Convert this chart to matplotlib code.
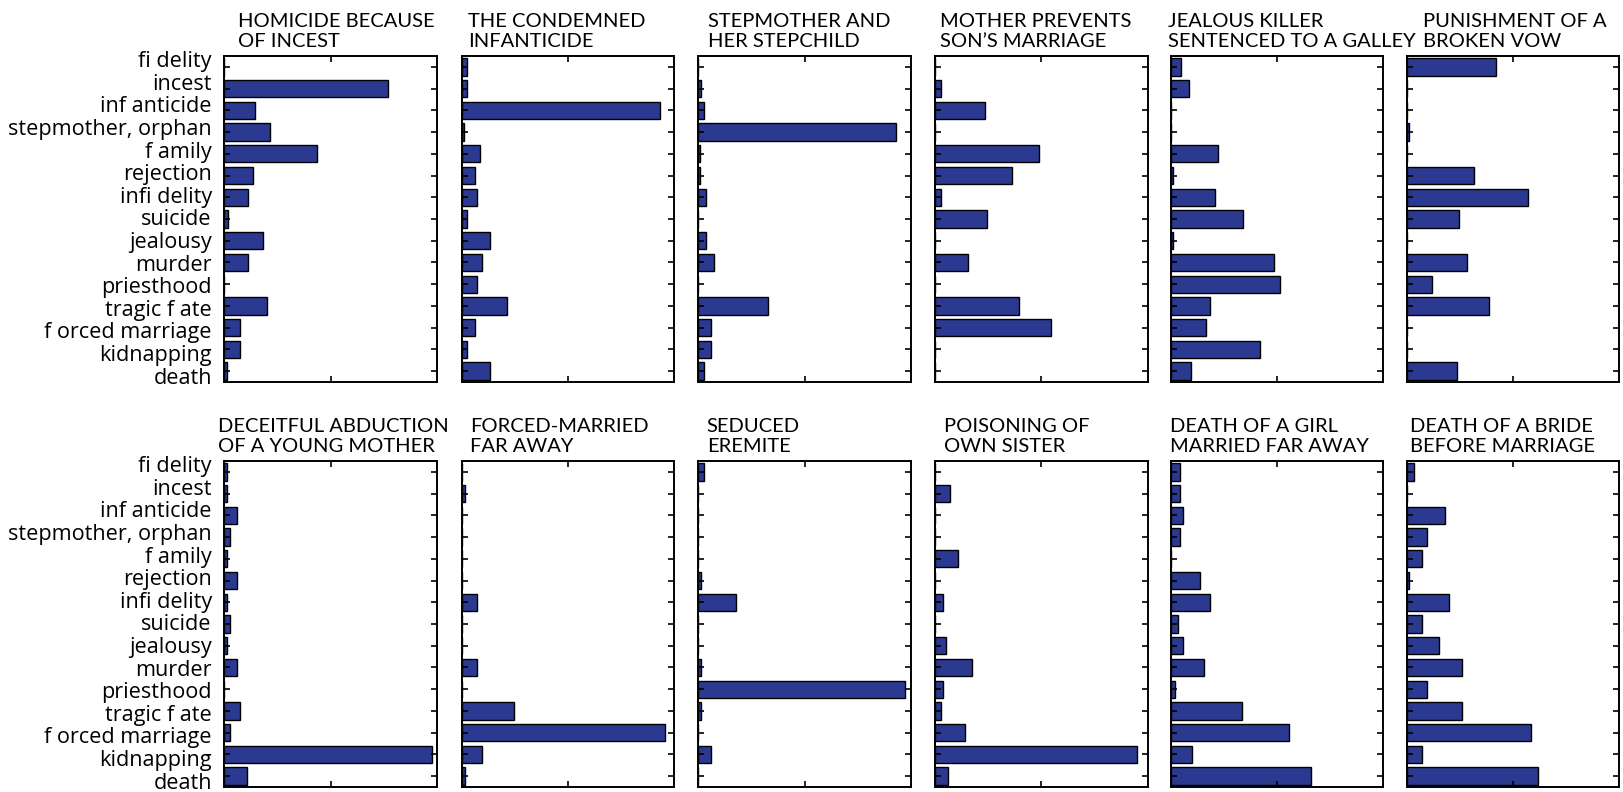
import matplotlib
matplotlib.use("Agg")
import matplotlib.pyplot as plt
import matplotlib.transforms as mtransforms
import numpy as np

categories = ["fi delity", "incest", "inf anticide", "stepmother, orphan", "f amily",
              "rejection", "infi delity", "suicide", "jealousy", "murder",
              "priesthood", "tragic f ate", "f orced marriage", "kidnapping", "death"]

titles = ["HOMICIDE BECAUSE\nOF INCEST", "THE CONDEMNED\nINFANTICIDE",
          "STEPMOTHER AND\nHER STEPCHILD", "MOTHER PREVENTS\nSON\u2019S MARRIAGE",
          "JEALOUS KILLER\nSENTENCED TO A GALLEY", "PUNISHMENT OF A\nBROKEN VOW",
          "DECEITFUL ABDUCTION\nOF A YOUNG MOTHER", "FORCED-MARRIED\nFAR AWAY",
          "SEDUCED\nEREMITE", "POISONING OF\nOWN SISTER",
          "DEATH OF A GIRL\nMARRIED FAR AWAY", "DEATH OF A BRIDE\nBEFORE MARRIAGE"]

homicide_incest = [0.0, 0.77, 0.146, 0.213, 0.436, 0.133, 0.11, 0.017, 0.18, 0.11, 0.0, 0.2, 0.074, 0.074, 0.015]
condemned_infanticide = [0.024, 0.024, 0.933, 0.012, 0.085, 0.061, 0.074, 0.024, 0.132, 0.097, 0.074, 0.213, 0.061, 0.024, 0.132]
stepmother_stepchild = [0.0, 0.011, 0.027, 0.93, 0.01, 0.01, 0.036, 0.0, 0.036, 0.073, 0.0, 0.329, 0.061, 0.061, 0.027]
mother_prevents = [0.0, 0.026, 0.234, 0.0, 0.489, 0.361, 0.026, 0.247, 0.0, 0.154, 0.0, 0.396, 0.548, 0.0, 0.0]
jealous_killer = [0.048, 0.085, 0.0, 0.0, 0.221, 0.013, 0.21, 0.338, 0.013, 0.488, 0.512, 0.187, 0.165, 0.421, 0.095]
broken_vow = [0.42, 0.0, 0.0, 0.013, 0.0, 0.317, 0.572, 0.246, 0.0, 0.283, 0.12, 0.387, 0.0, 0.0, 0.235]
deceitful_abduction = [0.012, 0.012, 0.061, 0.028, 0.012, 0.061, 0.012, 0.028, 0.012, 0.061, 0.0, 0.072, 0.028, 0.978, 0.108]
forced_married = [0.0, 0.016, 0.0, 0.0, 0.0, 0.0, 0.074, 0.0, 0.0, 0.074, 0.0, 0.248, 0.955, 0.097, 0.016]
seduced_eremite = [0.027, 0.0, 0.0, 0.0, 0.0, 0.011, 0.177, 0.0, 0.0, 0.011, 0.975, 0.011, 0.0, 0.061, 0.0]
poisoning_sister = [0.0, 0.071, 0.0, 0.0, 0.108, 0.0, 0.037, 0.0, 0.05, 0.175, 0.037, 0.026, 0.141, 0.952, 0.061]
death_girl = [0.044, 0.044, 0.057, 0.044, 0.0, 0.139, 0.183, 0.033, 0.057, 0.159, 0.022, 0.336, 0.558, 0.1, 0.66]
death_bride = [0.035, 0.0, 0.178, 0.096, 0.072, 0.013, 0.2, 0.072, 0.154, 0.259, 0.096, 0.259, 0.583, 0.072, 0.617]

series = [homicide_incest, condemned_infanticide, stepmother_stepchild, mother_prevents,
          jealous_killer, broken_vow, deceitful_abduction, forced_married,
          seduced_eremite, poisoning_sister, death_girl, death_bride]

plt.rcParams['font.family'] = ['Lato', 'DejaVu Sans']

W, H = 1623, 792
fig = plt.figure(figsize=(W / 100, H / 100), dpi=100)

col_left = [224.3, 461.7, 698.3, 935.0, 1170.7, 1406.7]
ax_w = 212.5
row_top = [56.0, 461.0]
ax_h = 326.0
title_dx = [[14, 6.5, 10, 4.7, -3, 16], [-6, 8.3, 8.4, 9, -1, 3]]

bar_color = '#2B3990'
y = np.arange(1, len(categories) + 1)

for i, vals in enumerate(series):
    r, c = divmod(i, 6)
    left = col_left[c] / W
    bottom = (H - row_top[r] - ax_h) / H
    ax = fig.add_axes([left, bottom, ax_w / W, ax_h / H])
    ax.barh(y, vals, height=0.8, color=bar_color, edgecolor='black', linewidth=1.0)
    ax.set_xlim(0, 1)
    ax.set_ylim(15.5, 0.5)
    ax.set_xticks([0.5])
    ax.set_xticklabels([])
    ax.set_yticks(y)
    ax.set_yticklabels([])
    ax.tick_params(axis='both', direction='in', length=4, width=1.2,
                   top=True, right=True)
    for s in ax.spines.values():
        s.set_linewidth(1.4)
    if c == 0:
        trans = mtransforms.blended_transform_factory(ax.transAxes, ax.transData)
        trans = trans + mtransforms.ScaledTranslation(-12.5 / 100, 0, fig.dpi_scale_trans)
        for k, lab in enumerate(categories):
            ax.text(0, y[k] * 1.04 - 0.39, lab, transform=trans, ha='right',
                    va='center_baseline', fontsize=15.6, family=['Open Sans', 'DejaVu Sans'])
    ax.annotate(titles[i], xy=(0, 1), xycoords='axes fraction',
                xytext=(title_dx[r][c] * 0.72, 4), textcoords='offset points',
                ha='left', va='bottom', fontsize=14.5, linespacing=1.27)

fig.savefig('out.png', dpi=100)
